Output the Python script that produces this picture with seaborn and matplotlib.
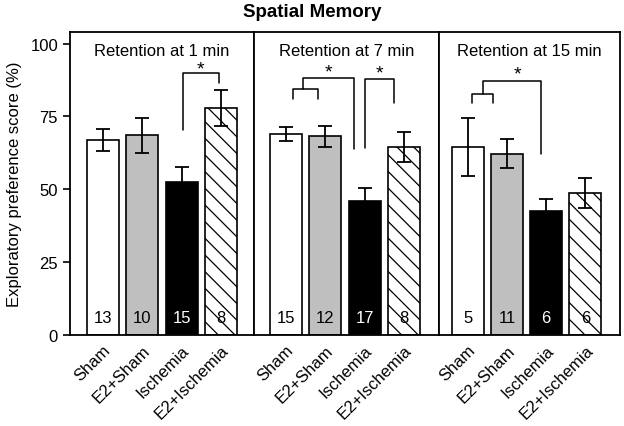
import matplotlib
matplotlib.use("Agg")
import matplotlib.pyplot as plt
import pandas as pd
import seaborn as sns

groups = ['Sham', 'E2+Sham', 'Ischemia', 'E2+Ischemia']
panels = ['Retention at 1 min', 'Retention at 7 min', 'Retention at 15 min']
means = [[67.0, 68.5, 52.5, 78.0],
         [69.1, 68.2, 46.0, 64.6],
         [64.5, 62.2, 42.6, 48.8]]
sems = [[3.7, 6.0, 5.0, 6.2],
        [2.4, 3.6, 4.4, 5.1],
        [10.0, 5.0, 4.0, 5.2]]
counts = [[13, 10, 15, 8],
          [15, 12, 17, 8],
          [5, 11, 6, 6]]

rows = []
for p, name in enumerate(panels):
    for g, grp in enumerate(groups):
        rows.append({'panel': name, 'group': grp, 'score': means[p][g],
                     'sem': sems[p][g], 'n': counts[p][g]})
df = pd.DataFrame(rows)

sns.set_style('ticks', {'axes.edgecolor': 'black', 'text.color': 'black',
                        'axes.labelcolor': 'black', 'xtick.color': 'black',
                        'ytick.color': 'black'})
plt.rcParams['font.family'] = ['Liberation Sans', 'DejaVu Sans']
plt.rcParams['hatch.linewidth'] = 0.9

colors = {'Sham': 'white', 'E2+Sham': '#bfbfbf', 'Ischemia': 'black', 'E2+Ischemia': 'white'}
xlims = [(-0.84, 3.84), (-0.81, 3.89), (-0.73, 3.89)]

fig, axes = plt.subplots(1, 3, figsize=(6.24, 4.27), dpi=100, sharey=True,
                         gridspec_kw={'width_ratios': [184, 185, 181], 'wspace': 0})
fig.subplots_adjust(left=0.112, right=0.994, bottom=0.213, top=0.923)

for p, ax in enumerate(axes):
    sub = df[df['panel'] == panels[p]]
    sns.barplot(data=sub, x='group', y='score', hue='group', palette=colors,
                order=groups, width=0.81, edgecolor='black', linewidth=1.2,
                errorbar=None, legend=False, ax=ax)
    ax.patches[3].set_hatch('\\\\')
    ax.errorbar(range(4), sub['score'], yerr=sub['sem'], fmt='none',
                ecolor='black', elinewidth=1.3, capsize=5, capthick=1.3, zorder=5)
    for i, (n, grp) in enumerate(zip(sub['n'], groups)):
        ax.text(i, 6, str(n), ha='center', va='center', fontsize=12,
                color='white' if grp == 'Ischemia' else 'black', zorder=6)
    ax.set_xlim(*xlims[p])
    ax.set_ylim(0, 104)
    ax.set_xlabel('')
    ax.set_ylabel('')
    ax.text(0.5, 96.0, panels[p], fontsize=12, ha='center', va='baseline',
            transform=ax.get_yaxis_transform())
    ax.tick_params(axis='x', length=0, labelsize=12, pad=5)
    ax.set_xticks(range(4))
    ax.set_xticklabels(groups, rotation=45, ha='right', rotation_mode='anchor')
    for s in ax.spines.values():
        s.set_visible(True)
        s.set_linewidth(1.3)
    if p > 0:
        ax.tick_params(axis='y', left=False)

axes[0].set_yticks([0, 25, 50, 75, 100])
axes[0].tick_params(axis='y', labelsize=12, length=5, width=1.2)
axes[0].set_ylabel('Exploratory preference score (%)', fontsize=12, labelpad=6)

kw = dict(color='black', lw=1.1)
# panel 1 bracket
a = axes[0]
a.plot([2.03, 2.03, 2.95, 2.95], [70.4, 90.0, 90.0, 86.3], **kw)
a.text(2.49, 91.3, '*', ha='center', va='center', fontsize=14)
# panel 2 brackets
a = axes[1]
a.plot([0.19, 0.19, 0.81, 0.81], [81.1, 84.3, 84.3, 81.1], **kw)
a.plot([0.44, 0.44, 1.73, 1.73], [84.3, 88.2, 88.2, 63.7], **kw)
a.text(1.08, 90.3, '*', ha='center', va='center', fontsize=14)
a.plot([2.0, 2.0, 2.75, 2.75], [64.1, 87.7, 87.7, 79.7], **kw)
a.text(2.37, 89.8, '*', ha='center', va='center', fontsize=14)
# panel 3 brackets
a = axes[2]
a.plot([0.11, 0.11, 0.64, 0.64], [79.7, 82.8, 82.8, 79.7], **kw)
a.plot([0.38, 0.38, 1.875, 1.875], [82.8, 87.0, 87.0, 62.2], **kw)
a.text(1.28, 89.5, '*', ha='center', va='center', fontsize=14)

fig.suptitle('Spatial Memory', fontsize=13.5, fontweight='bold', y=0.99)
fig.savefig('out.png', dpi=100)
